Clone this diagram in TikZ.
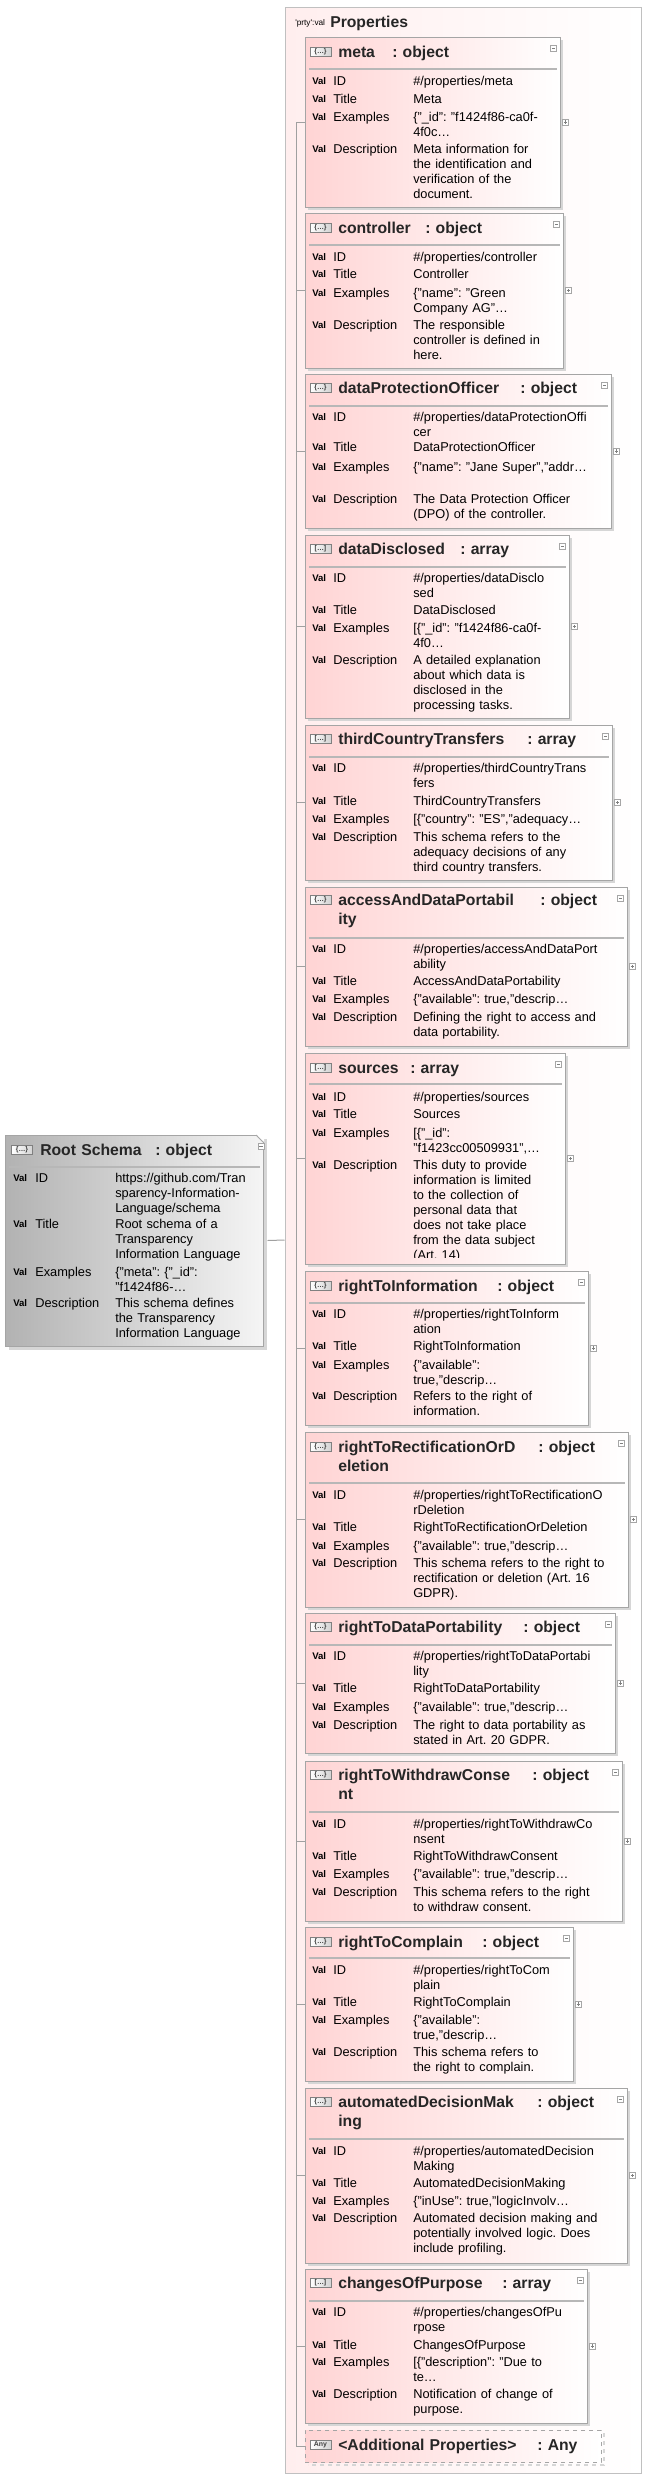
\documentclass[tikz,border=0pt]{standalone}
\usepackage{fontspec}
\setmainfont{Liberation Sans}
\usepackage{tikz}
\usetikzlibrary{positioning,calc,fit}
\frenchspacing

\definecolor{propfill}{RGB}{255,212,212}
\definecolor{rootfill}{RGB}{178,178,178}
\definecolor{groupfill}{RGB}{255,238,238}
\definecolor{framegray}{RGB}{165,165,165}
\definecolor{linegray}{RGB}{160,160,160}
\definecolor{shadowgray}{RGB}{214,214,214}

\tikzset{
  conn/.style={draw=linegray, line width=0.75pt},
  groupframe/.style={draw=framegray!70, line width=0.75pt, left color=groupfill, right color=white, inner sep=0pt},
  propframe/.style={draw=framegray, line width=0.75pt, left color=propfill, right color=white, inner sep=0pt},
  rootframe/.style={draw=framegray, line width=0.75pt, left color=rootfill, right color=white!96!black, inner sep=0pt},
  anyframe/.style={propframe, dashed},
  boxshadow/.style={fill=shadowgray},
  sepline/.style={draw=framegray!80, line width=1.5pt},
  typeicon/.style={draw=gray, left color=white, right color=gray!35, minimum width=15.75pt, minimum height=6.75pt, inner sep=0pt, font=\fontsize{5.2}{5}\selectfont\bfseries, text=black!75},
  titletxt/.style={anchor=base west, inner sep=0pt, text width=200pt, align=left, font=\fontsize{11.8}{14.25}\selectfont\bfseries, text=black!85},
  hdrtag/.style={anchor=base west, inner sep=0pt, font=\fontsize{6.2}{7}\selectfont},
  valtag/.style={anchor=base west, inner sep=0pt, font=\fontsize{7.2}{8}\selectfont\bfseries},
  rowkey/.style={anchor=base west, inner sep=0pt, font=\fontsize{9.6}{11.25}\selectfont},
  rowval/.style={anchor=base west, inner sep=0pt, text width=180pt, align=left, font=\fontsize{9.6}{11.25}\selectfont},
  minusbox/.style={draw=gray!70, fill=white, minimum size=4.5pt, inner sep=0pt,
    path picture={\draw[gray] ([xshift=1pt]path picture bounding box.west) -- ([xshift=-1pt]path picture bounding box.east);}},
  plusbox/.style={minusbox,
    path picture={\draw[gray] ([xshift=1pt]path picture bounding box.west) -- ([xshift=-1pt]path picture bounding box.east)
      ([yshift=1pt]path picture bounding box.south) -- ([yshift=-1pt]path picture bounding box.north);}},
}

% columns of the rows
\newcommand{\tagx}{312}
\newcommand{\keyx}{333}
\newcommand{\valx}{413}

% one property box: name, top, bottom, right, separator
\newcommand{\propbox}[5]{%
  \fill[boxshadow] (308,#2+3) rectangle (#4+3,#3+3);
  \node[propframe, fit={(305,#2) (#4,#3)}] (#1) {};
  \draw[sepline] (309,#5) -- (#4-3,#5);
  \node[minusbox] (#1-minus) at ($(#1.north east)+(-7,12)$) {};
  \node[plusbox] (#1-plus) at ($(#1.east)+(5,0)$) {};
  \draw[conn] (#1.west -| tree-top) -- (#1.west);
}
% title: box, icon, name, type, type x, centre y
\newcommand{\ptitle}[6]{%
  \node[typeicon] (#1-icon) at (320.5,#6) {#2};
  \node[titletxt] (#1-name) at (338,#6+5.5) {#3};
  \node[titletxt] (#1-type) at (#5,#6+5.5) {#4};
}
% one row: box, key, centre y, value
\newcommand{\prow}[4]{%
  \node[valtag] (#1-#2-tag) at (\tagx,#3+3.5) {Val};
  \node[rowkey] (#1-#2) at (\keyx,#3+4.5) {#2};
  \node[rowval] (#1-#2-v) at (\valx,#3+4.5) {#4};
}

\begin{document}
\begin{tikzpicture}[x=0.75pt, y=-0.75pt]
\useasboundingbox (0,0) rectangle (645,2475);

% properties group
\node[groupframe, fit={(285,7) (641,2473)}] (props) {};
\node[hdrtag] (props-tag) at (295,25) {\textquotesingle prty\textquotesingle:val};
\node[titletxt] (props-title) at (330,27.5) {Properties};
\coordinate (tree-top) at (296,122);

% meta
\propbox{meta}{37}{207}{560}{69}
\ptitle{meta}{\{…\}}{meta}{: object}{392}{52}
\prow{meta}{ID}{81}{\#/properties/meta}
\prow{meta}{Title}{99}{Meta}
\prow{meta}{Examples}{117}{\{"\_id": "f1424f86-ca0f-\\4f0c…}
\prow{meta}{Description}{149}{Meta information for\\the identification and\\verification of the\\document.}

% controller
\propbox{ctrl}{213}{368}{563}{245}
\ptitle{ctrl}{\{…\}}{controller}{: object}{425}{228}
\prow{ctrl}{ID}{257}{\#/properties/controller}
\prow{ctrl}{Title}{274}{Controller}
\prow{ctrl}{Examples}{293}{\{"name": "Green\\Company AG"…}
\prow{ctrl}{Description}{325}{The responsible\\controller is defined in\\here.}

% dataProtectionOfficer
\propbox{dpo}{374}{528}{611}{406}
\ptitle{dpo}{\{…\}}{dataProtectionOfficer}{: object}{520}{388}
\prow{dpo}{ID}{417}{\#/properties/dataProtectionOffi\\cer}
\prow{dpo}{Title}{447}{DataProtectionOfficer}
\prow{dpo}{Examples}{467}{\{"name": "Jane Super","addr…}
\prow{dpo}{Description}{499}{The Data Protection Officer\\(DPO) of the controller.}

% dataDisclosed
\propbox{disc}{535}{718}{569}{567}
\ptitle{disc}{[…]}{dataDisclosed}{: array}{460}{549}
\prow{disc}{ID}{578}{\#/properties/dataDisclo\\sed}
\prow{disc}{Title}{610}{DataDisclosed}
\prow{disc}{Examples}{628}{[\{"\_id": "f1424f86-ca0f-\\4f0…}
\prow{disc}{Description}{660}{A detailed explanation\\about which data is\\disclosed in the\\processing tasks.}

% thirdCountryTransfers
\propbox{third}{725}{880}{612}{757}
\ptitle{third}{[…]}{thirdCountryTransfers}{: array}{527}{739}
\prow{third}{ID}{768}{\#/properties/thirdCountryTrans\\fers}
\prow{third}{Title}{801}{ThirdCountryTransfers}
\prow{third}{Examples}{819}{[\{"country": "ES","adequacy…}
\prow{third}{Description}{837}{This schema refers to the\\adequacy decisions of any\\third country transfers.}

% accessAndDataPortability
\propbox{access}{887}{1046}{627}{938}
\ptitle{access}{\{…\}}{accessAndDataPortabil\\ity}{: object}{540}{900}
\prow{access}{ID}{949}{\#/properties/accessAndDataPort\\ability}
\prow{access}{Title}{981}{AccessAndDataPortability}
\prow{access}{Examples}{999}{\{"available": true,"descrip…}
\prow{access}{Description}{1017}{Defining the right to access and\\data portability.}

% sources
\propbox{src}{1053}{1264}{565}{1084}
\ptitle{src}{[…]}{sources}{: array}{410}{1068}
\prow{src}{ID}{1097}{\#/properties/sources}
\prow{src}{Title}{1114}{Sources}
\prow{src}{Examples}{1133}{[\{"\_id":\\"f1423cc00509931",…}
\begin{scope}
  \clip (305,1053) rectangle (565,1257);
  \prow{src}{Description}{1165}{This duty to provide\\information is limited\\to the collection of\\personal data that\\does not take place\\from the data subject\\(Art. 14)}
\end{scope}

% rightToInformation
\propbox{info}{1271}{1425}{588}{1303}
\ptitle{info}{\{…\}}{rightToInformation}{: object}{497}{1286}
\prow{info}{ID}{1314}{\#/properties/rightToInform\\ation}
\prow{info}{Title}{1346}{RightToInformation}
\prow{info}{Examples}{1365}{\{"available":\\true,"descrip…}
\prow{info}{Description}{1396}{Refers to the right of\\information.}

% rightToRectificationOrDeletion
\propbox{rect}{1432}{1607}{628}{1483}
\ptitle{rect}{\{…\}}{rightToRectificationOrD\\eletion}{: object}{538}{1447}
\prow{rect}{ID}{1495}{\#/properties/rightToRectificationO\\rDeletion}
\prow{rect}{Title}{1527}{RightToRectificationOrDeletion}
\prow{rect}{Examples}{1546}{\{"available": true,"descrip…}
\prow{rect}{Description}{1563}{This schema refers to the right to\\rectification or deletion (Art. 16\\GDPR).}

% rightToDataPortability
\propbox{port}{1613}{1753}{615}{1645}
\ptitle{port}{\{…\}}{rightToDataPortability}{: object}{523}{1627}
\prow{port}{ID}{1656}{\#/properties/rightToDataPortabi\\lity}
\prow{port}{Title}{1688}{RightToDataPortability}
\prow{port}{Examples}{1707}{\{"available": true,"descrip…}
\prow{port}{Description}{1725}{The right to data portability as\\stated in Art. 20 GDPR.}

% rightToWithdrawConsent
\propbox{withdraw}{1761}{1921}{622}{1812}
\ptitle{withdraw}{\{…\}}{rightToWithdrawConse\\nt}{: object}{532}{1775}
\prow{withdraw}{ID}{1824}{\#/properties/rightToWithdrawCo\\nsent}
\prow{withdraw}{Title}{1856}{RightToWithdrawConsent}
\prow{withdraw}{Examples}{1874}{\{"available": true,"descrip…}
\prow{withdraw}{Description}{1892}{This schema refers to the right\\to withdraw consent.}

% rightToComplain
\propbox{complain}{1927}{2081}{573}{1958}
\ptitle{complain}{\{…\}}{rightToComplain}{: object}{482}{1942}
\prow{complain}{ID}{1970}{\#/properties/rightToCom\\plain}
\prow{complain}{Title}{2002}{RightToComplain}
\prow{complain}{Examples}{2020}{\{"available":\\true,"descrip…}
\prow{complain}{Description}{2052}{This schema refers to\\the right to complain.}

% automatedDecisionMaking
\propbox{auto}{2088}{2263}{627}{2139}
\ptitle{auto}{\{…\}}{automatedDecisionMak\\ing}{: object}{537}{2102}
\prow{auto}{ID}{2151}{\#/properties/automatedDecision\\Making}
\prow{auto}{Title}{2183}{AutomatedDecisionMaking}
\prow{auto}{Examples}{2201}{\{"inUse": true,"logicInvolv…}
\prow{auto}{Description}{2218}{Automated decision making and\\potentially involved logic. Does\\include profiling.}

% changesOfPurpose
\propbox{purpose}{2269}{2423}{587}{2301}
\ptitle{purpose}{[…]}{changesOfPurpose}{: array}{502}{2283}
\prow{purpose}{ID}{2312}{\#/properties/changesOfPu\\rpose}
\prow{purpose}{Title}{2345}{ChangesOfPurpose}
\prow{purpose}{Examples}{2362}{[\{"description": "Due to\\te…}
\prow{purpose}{Description}{2394}{Notification of change of\\purpose.}

% additional properties
\draw[shadowgray, dashed, line width=2pt] (604,2433) -- (604,2465) -- (308,2465);
\node[anyframe, fit={(305,2430) (601,2462)}] (extra) {};
\ptitle{extra}{Any}{<Additional Properties>}{: Any}{537}{2445}
\draw[conn] (extra.west -| tree-top) -- (extra.west);
\draw[conn] (tree-top) -- (extra.west -| tree-top);

% root schema
\renewcommand{\tagx}{13}
\renewcommand{\keyx}{35}
\renewcommand{\valx}{115}
\fill[boxshadow] (9,1139) rectangle (267,1350);
\node[rootframe, fit={(5,1135) (263,1346)}] (root) {};
\fill[white] (256,1134) -- (264,1134) -- (264,1142) -- cycle;
\draw[framegray, line width=0.75pt] (256,1135) -- (263,1142);
\draw[sepline] (9,1167) -- (260,1167);
\node[minusbox] (root-minus) at (261,1146) {};
\node[typeicon] (root-icon) at (22,1150) {\{…\}};
\node[titletxt] (root-name) at (40,1155.5) {Root Schema};
\node[titletxt] (root-type) at (155,1155.5) {: object};
\prow{root}{ID}{1178}{https://github.com/Tran\\sparency-Information-\\Language/schema}
\prow{root}{Title}{1224}{Root schema of a\\Transparency\\Information Language}
\prow{root}{Examples}{1272}{\{"meta": \{"\_id":\\"f1424f86-…}
\prow{root}{Description}{1303}{This schema defines\\the Transparency\\Information Language}
\draw[conn] ($(root.east)+(4,0)$) -- (props.west);

\end{tikzpicture}
\end{document}
